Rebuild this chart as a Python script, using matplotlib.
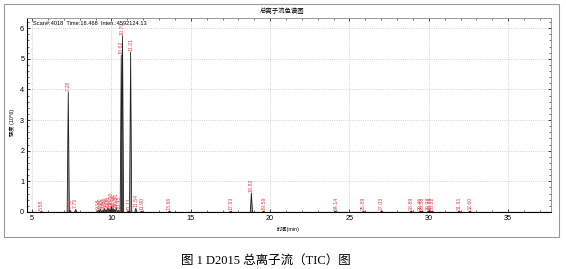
import matplotlib
matplotlib.use('Agg')
import matplotlib.pyplot as plt
from matplotlib.patches import Rectangle
from matplotlib.ticker import MultipleLocator

plt.rcParams['font.family'] = ['Liberation Sans', 'Noto Sans CJK SC']

# peak retention times (min) and heights (x10^6), label text = retention time
peak_rt = [5.58, 7.28, 7.40, 7.75, 9.18, 9.30, 9.42, 9.55, 9.66, 9.78,
           9.90, 10.00, 10.10, 10.20, 10.31, 10.45, 10.62, 10.70, 11.11,
           11.21, 11.54, 11.90, 13.66, 17.53, 18.82, 19.59, 24.14, 25.89,
           27.03, 28.89, 29.46, 29.58, 29.98, 30.10, 30.22, 31.91, 32.60]
peak_h = [0.01, 3.92, 0.05, 0.08, 0.06, 0.10, 0.05, 0.12, 0.08, 0.15,
          0.10, 0.18, 0.12, 0.08, 0.14, 0.06, 5.12, 5.75, 0.04,
          5.22, 0.12, 0.03, 0.02, 0.02, 0.62, 0.03, 0.02, 0.02,
          0.03, 0.02, 0.02, 0.03, 0.02, 0.03, 0.02, 0.03, 0.02]

x_ticks = [5, 10, 15, 20, 25, 30, 35]
y_ticks = [0, 1, 2, 3, 4, 5, 6]

fig = plt.figure(figsize=(5.66, 2.69), dpi=100)
ax = fig.add_axes([27 / 566, 1 - 212 / 269, (551 - 27) / 566, (212 - 18) / 269])

# outer frame
fig.patches.append(Rectangle((4 / 566, 1 - 237 / 269), 555 / 566, 233 / 269,
                             transform=fig.transFigure, fill=False,
                             edgecolor='#999999', lw=0.8))

hw = 0.07
for rt, h in zip(peak_rt, peak_h):
    ax.fill([rt - hw, rt, rt + hw], [0, h, 0], color='#999999', lw=0)
    ax.plot([rt - hw, rt, rt + hw], [0, h, 0], color='#222222', lw=0.6)
    ax.text(rt, h + 0.04, '%.2f' % rt, rotation=90, color='#e8404a',
            fontsize=3.8, ha='center', va='bottom')

ax.axhline(0, color='black', lw=0.8)

ax.set_xlim(4.68, 37.7)
ax.set_ylim(0, 6.33)
ax.set_xticks(x_ticks)
ax.set_yticks(y_ticks)
ax.xaxis.set_minor_locator(MultipleLocator(1))
ax.yaxis.set_minor_locator(MultipleLocator(0.2))
ax.tick_params(labelsize=5.2, length=2, width=0.5, pad=2)
ax.tick_params(which='minor', length=1.2, width=0.4)
ax.tick_params(top=True, right=True, which='both', direction='in')
ax.grid(True, ls=':', color='#c4c4c4', lw=0.6)
for s in ['top', 'right']:
    ax.spines[s].set_color('#888888')
    ax.spines[s].set_linewidth(0.6)
for s in ['left', 'bottom']:
    ax.spines[s].set_linewidth(0.8)

ax.text(0.012, 0.985, 'Scan#:4018  Time:18.468  Inten.:4592124.13',
        transform=ax.transAxes, fontsize=4.1, va='top', ha='left')

fig.text(282 / 566, 1 - 11 / 269, '总离子流色谱图', fontsize=4.6,
         ha='center', va='center')
fig.text(12 / 566, 1 - 122 / 269, '强度 (10^6)', fontsize=3.8, rotation=90,
         ha='center', va='center')
fig.text(277 / 566, 1 - 229 / 269, '时间(min)', fontsize=3.8,
         ha='left', va='center')

fig.text(266 / 566, 1 - 261 / 269, '图 1 D2015 总离子流（TIC）图', fontsize=9,
         ha='center', va='center',
         family=['Liberation Serif', 'Noto Sans CJK SC'])

fig.savefig('out.png', dpi=100)
